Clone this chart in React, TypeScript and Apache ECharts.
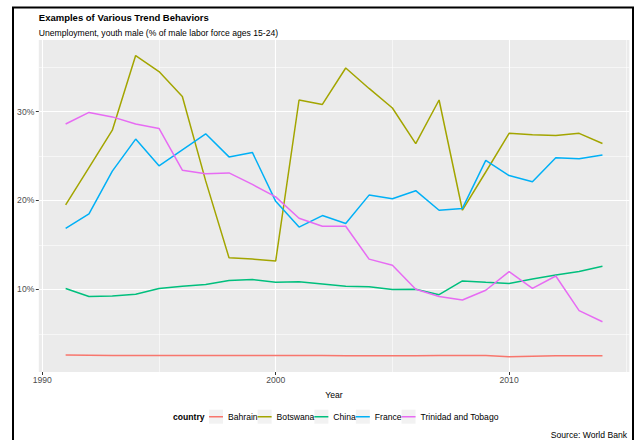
import React, { useEffect, useRef } from 'react';
import * as echarts from 'echarts';

const years = [1991, 1992, 1993, 1994, 1995, 1996, 1997, 1998, 1999, 2000, 2001, 2002, 2003, 2004, 2005, 2006, 2007, 2008, 2009, 2010, 2011, 2012, 2013, 2014];

const countries = ['Bahrain', 'Botswana', 'China', 'France', 'Trinidad and Tobago'];

const bahrain = [2.6, 2.58, 2.56, 2.55, 2.55, 2.55, 2.57, 2.57, 2.57, 2.57, 2.56, 2.55, 2.53, 2.53, 2.53, 2.53, 2.55, 2.55, 2.55, 2.42, 2.47, 2.52, 2.52, 2.53];
const botswana = [19.5, 23.7, 27.9, 36.3, 34.5, 31.7, 22.2, 13.55, 13.4, 13.2, 31.3, 30.8, 34.9, 32.6, 30.4, 26.4, 31.3, 18.9, 23.2, 27.55, 27.4, 27.3, 27.55, 26.4];
const china = [10.1, 9.2, 9.25, 9.45, 10.1, 10.35, 10.55, 11.0, 11.1, 10.8, 10.85, 10.6, 10.35, 10.3, 9.98, 10.0, 9.4, 10.95, 10.8, 10.66, 11.15, 11.6, 12.0, 12.6];
const france = [16.85, 18.5, 23.3, 26.9, 23.9, 25.7, 27.5, 24.9, 25.4, 19.9, 17.0, 18.3, 17.4, 20.6, 20.2, 21.1, 18.9, 19.1, 24.5, 22.8, 22.1, 24.8, 24.7, 25.1];
const trinidad = [28.6, 29.9, 29.4, 28.6, 28.1, 23.4, 23.0, 23.1, 21.8, 20.4, 18.0, 17.1, 17.1, 13.4, 12.7, 10.0, 9.2, 8.8, 9.9, 12.0, 10.1, 11.5, 7.6, 6.35];

const xMajor = [1990, 2000, 2010];
const xMinor = [1995, 2005, 2015];
const yMajor = [10, 20, 30];
const yMinor = [5, 15, 25, 35];

const colors = ['#F8766D', '#A3A500', '#00BF7D', '#00B0F6', '#E76BF3'];

export default function App() {
  const ref = useRef<HTMLDivElement>(null);

  useEffect(() => {
    const chart = echarts.init(ref.current!, null, { renderer: 'svg' });
    const FONT = '"Liberation Sans", Arial, Helvetica, sans-serif';
    const FS = 8.6;
    const values = [bahrain, botswana, china, france, trinidad];

    const legendLeft = 209;
    const legendTop = 409.7;
    const key = 14;
    const ctx = document.createElement('canvas').getContext('2d')!;
    ctx.font = `${FS}px ${FONT}`;
    let kx = legendLeft;
    const keyRects = countries.map((name) => {
      const r = {
        type: 'rect',
        silent: true,
        z: 0,
        shape: { x: kx, y: legendTop, width: key, height: key },
        style: { fill: '#F2F2F2' },
      };
      kx += key + 5 + ctx.measureText(name).width;
      return r;
    });

    const txt = (extra: any = {}) => ({
      fontFamily: FONT,
      fontSize: FS,
      color: '#000',
      fontWeight: 'normal',
      lineHeight: 12,
      ...extra,
    });

    chart.setOption({
      animation: false,
      backgroundColor: '#ffffff',
      title: [
        {
          text: 'Examples of Various Trend Behaviors',
          left: 38.8,
          top: 11,
          padding: 0,
          textStyle: txt({ fontSize: 9.5, fontWeight: 'bold' }),
        },
        {
          text: 'Unemployment, youth male (% of male labor force ages 15-24)',
          left: 38.8,
          top: 26.5,
          padding: 0,
          textStyle: txt(),
        },
        {
          text: 'country',
          left: 173,
          top: 410.7,
          padding: 0,
          textStyle: txt({ fontWeight: 'bold' }),
        },
        {
          text: 'Source: World Bank',
          right: 9,
          top: 429,
          padding: 0,
          textStyle: txt(),
        },
      ],
      legend: {
        data: countries,
        left: legendLeft,
        top: legendTop,
        orient: 'horizontal',
        padding: 0,
        itemGap: 0,
        itemWidth: key,
        itemHeight: key,
        selectedMode: false,
        icon: 'path://M0,0h0.01v0.01h-0.01z M0,6.2h14v1.6h-14z M13.99,13.99h0.01v0.01h-0.01z',
        itemStyle: { borderWidth: 0 },
        textStyle: txt(),
      },
      graphic: [
        ...keyRects,
        {
          type: 'rect',
          silent: true,
          z: 10,
          shape: { x: 13, y: 7.5, width: 620, height: 450 },
          style: { fill: 'none', stroke: '#000', lineWidth: 2 },
        },
      ],
      grid: {
        left: 38.8,
        right: 6.7,
        top: 40,
        bottom: 68,
        show: true,
        backgroundColor: '#EBEBEB',
        borderWidth: 0,
        containLabel: false,
      },
      xAxis: {
        type: 'value',
        min: 1989.85,
        max: 2015.15,
        name: 'Year',
        nameLocation: 'middle',
        nameGap: 14,
        nameTextStyle: txt({ lineHeight: 10 }),
        axisLine: { show: false },
        axisTick: { show: true, length: 3, customValues: xMajor, lineStyle: { color: '#333333', width: 1 } },
        axisLabel: {
          customValues: xMajor,
          color: '#4D4D4D',
          fontSize: FS,
          fontFamily: FONT,
          lineHeight: 10,
          margin: 3,
          formatter: (v: number) => String(v),
        },
        splitLine: { show: true, lineStyle: { color: '#ffffff', width: 1.1 } },
      },
      yAxis: {
        type: 'value',
        min: 0.7,
        max: 38.05,
        axisLine: { show: false },
        axisTick: { show: true, length: 3, customValues: yMajor, lineStyle: { color: '#333333', width: 1 } },
        axisLabel: {
          customValues: yMajor,
          color: '#4D4D4D',
          fontSize: FS,
          fontFamily: FONT,
          margin: 4.5,
          formatter: '{value}%',
        },
        splitLine: { show: true, lineStyle: { color: '#ffffff', width: 1.1 } },
      },
      series: [
        {
          type: 'line',
          name: '_minorGrid',
          data: [],
          silent: true,
          z: 1,
          markLine: {
            silent: true,
            z: 1,
            symbol: ['none', 'none'],
            label: { show: false },
            emphasis: { disabled: true },
            lineStyle: { color: '#ffffff', width: 0.55, type: 'solid' },
            data: [
              ...xMinor.map((v) => ({ xAxis: v })),
              ...yMinor.map((v) => ({ yAxis: v })),
            ],
          },
        },
        ...countries.map((name, i) => ({
          type: 'line',
          name,
          data: years.map((y, j) => [y, values[i][j]]),
          showSymbol: false,
          symbol: 'none',
          z: 3,
          color: colors[i],
          lineStyle: { width: 1.5, color: colors[i] },
          itemStyle: { color: colors[i] },
          emphasis: { disabled: true },
        })),
      ],
    });

    return () => chart.dispose();
  }, []);

  return (
    <div
      ref={ref}
      style={{ position: 'absolute', left: 0, top: 0, width: 636, height: 440 }}
    />
  );
}
